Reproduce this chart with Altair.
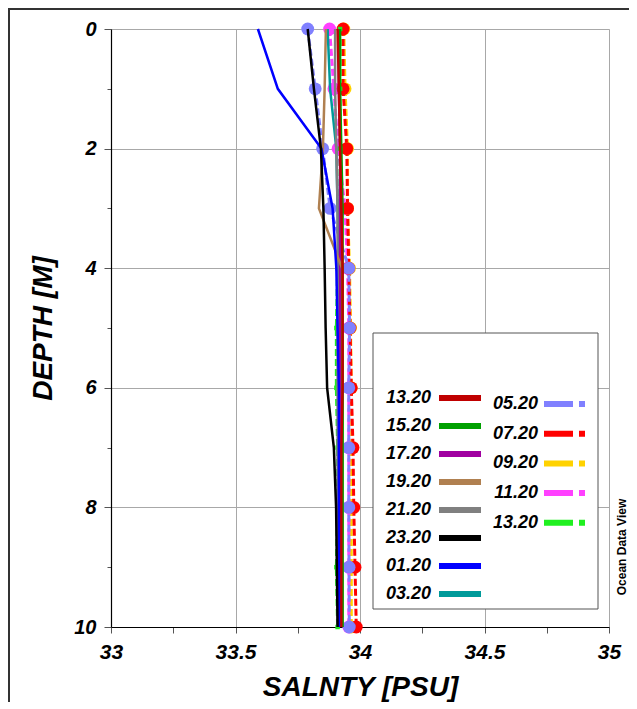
import altair as alt
import pandas as pd

# ---------------- data ----------------
depth_m = [0, 1, 2, 3, 4, 5, 6, 7, 8, 9, 10]

solid_series = ["13.20", "15.20", "17.20", "19.20", "21.20", "23.20", "01.20", "03.20"]
solid_colors = ["#c00000", "#00a000", "#a000a0", "#b08050", "#808080", "#000000", "#0000ff", "#009a9a"]
sal_s_1320 = [33.91, 33.915, 33.92, 33.925, 33.93, 33.93, 33.93, 33.925, 33.925, 33.925, 33.925]
sal_s_1520 = [33.92, 33.92, 33.925, 33.93, 33.93, 33.93, 33.93, 33.93, 33.93, 33.93, 33.93]
sal_s_1720 = [33.915, 33.915, 33.92, 33.92, 33.92, 33.92, 33.92, 33.92, 33.92, 33.92, 33.92]
sal_s_1920 = [33.863, 33.858, 33.851, 33.835, 33.928, 33.93, 33.93, 33.93, 33.93, 33.93, 33.93]
sal_s_2120 = [33.90, 33.90, 33.905, 33.91, 33.91, 33.91, 33.91, 33.91, 33.91, 33.91, 33.91]
sal_s_2320 = [33.79, 33.815, 33.843, 33.853, 33.858, 33.862, 33.868, 33.895, 33.904, 33.907, 33.91]
sal_s_0120 = [33.59, 33.67, 33.845, 33.89, 33.905, 33.91, 33.915, 33.915, 33.915, 33.915, 33.915]
sal_s_0320 = [33.87, 33.88, 33.905, 33.91, 33.915, 33.915, 33.915, 33.915, 33.915, 33.915, 33.915]
solid_values = [sal_s_1320, sal_s_1520, sal_s_1720, sal_s_1920,
                sal_s_2120, sal_s_2320, sal_s_0120, sal_s_0320]
solid_draw_order = ["03.20", "21.20", "17.20", "19.20", "15.20", "13.20", "01.20", "23.20"]

dashed_series = ["05.20", "07.20", "09.20", "11.20", "13.20"]
dashed_colors = ["#8080ff", "#ff0000", "#ffd200", "#ff40ff", "#20f020"]
sal_d_0520 = [33.79, 33.82, 33.85, 33.88, 33.955, 33.958, 33.955, 33.955, 33.955, 33.956, 33.957]
sal_d_0720 = [33.932, 33.932, 33.947, 33.95, 33.955, 33.96, 33.965, 33.972, 33.975, 33.98, 33.985]
sal_d_0920 = [33.935, 33.94, 33.95, 33.95, 33.958, 33.962, 33.965, 33.965, 33.965, 33.965, 33.965]
sal_d_1120 = [33.878, 33.895, 33.912, 33.94, 33.95, 33.955, 33.955, 33.955, 33.955, 33.955, 33.955]
sal_d_1320 = [33.92, 33.92, 33.92, 33.92, 33.91, 33.905, 33.905, 33.91, 33.91, 33.905, 33.91]
dashed_values = [sal_d_0520, sal_d_0720, sal_d_0920, sal_d_1120, sal_d_1320]
dashed_draw_order = ["09.20", "11.20", "07.20", "05.20", "13.20"]
small_marker_series = "13.20"

x_ticks = [33, 33.25, 33.5, 33.75, 34, 34.25, 34.5, 34.75, 35]
y_ticks = [0, 1, 2, 3, 4, 5, 6, 7, 8, 9, 10]

x_title = "SALNTY [PSU]"
y_title = "DEPTH [M]"
credit = "Ocean Data View"

# ---------------- tables ----------------
solid_map = dict(zip(solid_series, solid_values))
solid_df = pd.DataFrame(
    [{"series": s, "depth": d, "sal": v}
     for s in solid_draw_order for d, v in zip(depth_m, solid_map[s])]
)
dashed_map = dict(zip(dashed_series, dashed_values))
dashed_df = pd.DataFrame(
    [{"series": s, "depth": d, "sal": v}
     for s in dashed_draw_order for d, v in zip(depth_m, dashed_map[s])]
)
big_pts_df = dashed_df[dashed_df["series"] != small_marker_series]
small_pts_df = dashed_df[dashed_df["series"] == small_marker_series]
one = pd.DataFrame({"a": [0]})

W, H = 498, 598
FONT = "Liberation Sans"

x_scale = alt.Scale(domain=[33, 35], nice=False, zero=False)
y_scale = alt.Scale(domain=[0, 10], reverse=True, nice=False, zero=False)

x_axis = alt.Axis(
    values=x_ticks,
    labelExpr="datum.value % 0.5 == 0 ? format(datum.value, '~g') : ''",
    grid=True,
    gridColor="#a8a8a8",
    gridWidth=1,
    gridOpacity={"condition": {"test": "datum.value % 0.5 != 0", "value": 0}, "value": 1},
    tickSize=6, tickColor="#555555",
    domainColor="#000000", domainWidth=1.2,
    labelFont=FONT, labelFontSize=21, labelFontWeight="bold", labelFontStyle="italic",
    labelColor="#000000", labelPadding=8, labelFlush=False,
    title=x_title, titleFont=FONT, titleFontSize=28, titleFontWeight="bold",
    titleFontStyle="italic", titleColor="#000000", titleY=68, titleBaseline="alphabetic",
)
y_axis = alt.Axis(
    values=y_ticks,
    labelExpr="datum.value % 2 == 0 ? format(datum.value, '~g') : ''",
    grid=True,
    gridColor="#a8a8a8",
    gridWidth=1,
    gridOpacity={"condition": {"test": "datum.value % 2 != 0", "value": 0}, "value": 1},
    tickSize={"condition": {"test": "datum.value % 2 != 0", "value": 4}, "value": 7},
    tickColor="#555555",
    domainColor="#000000", domainWidth=1.2,
    labelFont=FONT, labelFontSize=20, labelFontWeight="bold", labelFontStyle="italic",
    labelColor="#000000", labelPadding=8, labelFlush=False,
    title=y_title, titleFont=FONT, titleFontSize=28, titleFontWeight="bold",
    titleFontStyle="italic", titleColor="#000000", titleX=-60, titleY=H / 2,
    titleBaseline="alphabetic", titleAngle=270,
)

X = alt.X("sal:Q", scale=x_scale, axis=x_axis)
Y = alt.Y("depth:Q", scale=y_scale, axis=y_axis)

legend_common = dict(
    orient="none", title=None, padding=0,
    symbolSize=400, symbolStrokeWidth=6, symbolOpacity=1, symbolOffset=0, labelOffset=0,
    labelFont=FONT, labelFontSize=18, labelFontWeight="bold", labelFontStyle="italic",
    labelColor="#000000", labelAlign="right", labelLimit=200,
)

# frame around the figure
frame = alt.Chart(one).mark_rect(fill="white", fillOpacity=0, stroke="#333333", strokeWidth=2).encode(
    x=alt.value(-102), x2=alt.value(700), y=alt.value(-20), y2=alt.value(900)
)
# legend box
legend_box = alt.Chart(one).mark_rect(fill="white", stroke="#555555", strokeWidth=1).encode(
    x=alt.value(262), x2=alt.value(487), y=alt.value(304), y2=alt.value(580)
)

dashed_fill = alt.Scale(domain=dashed_series, range=dashed_colors)

dashed_lines = alt.Chart(dashed_df).mark_line(strokeWidth=3, strokeDash=[7, 3]).encode(
    x=X, y=Y, order="depth:Q",
    stroke=alt.Stroke("series:N", scale=alt.Scale(domain=dashed_series, range=dashed_colors), legend=None),
)
big_points = alt.Chart(big_pts_df).mark_circle(opacity=1, size=165).encode(
    x=X, y=Y,
    fill=alt.Fill("series:N", scale=dashed_fill, legend=None),
)
small_points = alt.Chart(small_pts_df).mark_square(opacity=1, size=20, filled=True).encode(
    x=X, y=Y,
    fill=alt.Fill("series:N", scale=dashed_fill, legend=None),
)
solid_lines = alt.Chart(solid_df).mark_line(strokeWidth=2.5).encode(
    x=X, y=Y, order="depth:Q",
    stroke=alt.Stroke("series:N", scale=alt.Scale(domain=solid_series, range=solid_colors), legend=None),
)
legend_a = alt.Chart(solid_df).mark_line(strokeWidth=6, opacity=0).encode(
    x=X, y=Y, order="depth:Q",
    stroke=alt.Stroke(
        "series:N", scale=alt.Scale(domain=solid_series, range=solid_colors),
        legend=alt.Legend(legendX=294, legendY=356, rowPadding=3,
                          symbolType="M2.1,0H6.3", **legend_common),
    ),
)
legend_b = alt.Chart(dashed_df).mark_line(strokeWidth=6, opacity=0).encode(
    x=X, y=Y, order="depth:Q",
    stroke=alt.Stroke(
        "series:N", scale=alt.Scale(domain=dashed_series, range=dashed_colors),
        legend=alt.Legend(legendX=401, legendY=362, rowPadding=4.7,
                          symbolType="M1.9,0H4.8M5.4,0H6.0", **legend_common),
    ),
)
credit_text = alt.Chart(one).mark_text(
    angle=270, font=FONT, fontSize=12, fontWeight="bold", color="#000000"
).encode(x=alt.value(511), y=alt.value(518), text=alt.value(credit))

chart = alt.layer(
    frame, legend_box, dashed_lines, big_points, small_points, solid_lines,
    legend_a, legend_b, credit_text
).resolve_scale(stroke="independent").properties(
    width=W, height=H,
    autosize=alt.AutoSizeParams(type="none"),
    padding={"left": 103, "top": 21, "right": 20, "bottom": 75},
).configure_view(stroke="#000000", strokeWidth=1.2).configure(background="white")

chart.save("out.html", embed_options={"renderer": "svg", "actions": False})
